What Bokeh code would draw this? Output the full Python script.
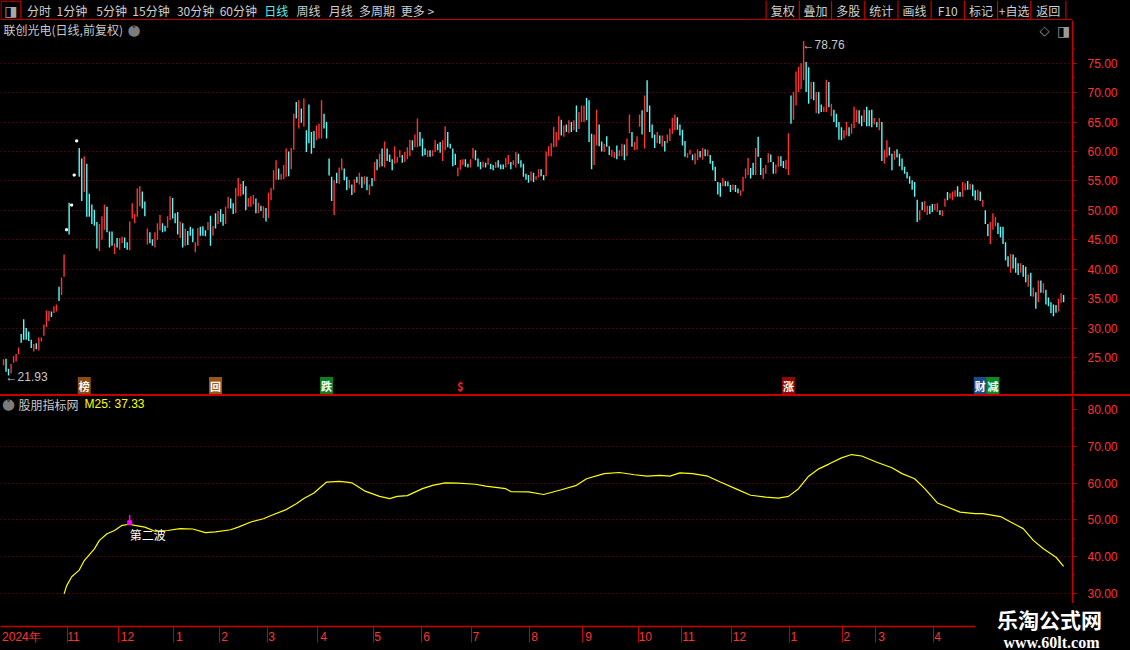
from bokeh.plotting import figure
from bokeh.models import Range1d, FixedTicker, NumeralTickFormatter, Label, ColumnDataSource, Div
from bokeh.layouts import column, row
from bokeh.embed import file_html
from bokeh.resources import INLINE

# ---------------- data ----------------
stock_title = "联创光电(日线,前复权)"
indicator_name = "股朋指标网"

low = [
    23.7, 22.6, 21.93, 22.3, 24.1, 24.3, 25.6, 27.5, 28.0, 28.0,
    27.8, 26.6, 26.0, 26.4, 26.2, 27.7, 28.7, 30.2, 31.2, 31.9,
    32.5, 32.8, 34.6, 35.6, 38.7, 46.7, 45.9, 50.9, 56.0, 61.8,
    55.7, 51.6, 53.1, 48.9, 48.9, 47.7, 47.4, 43.5, 43.1, 45.0,
    46.7, 46.3, 43.7, 44.0, 42.6, 43.7, 43.3, 44.4, 43.6, 43.3,
    43.2, 48.6, 47.8, 48.9, 50.7, 50.3, 49.0, 44.2, 44.4, 44.0,
    43.7, 45.0, 46.6, 46.3, 46.4, 47.0, 48.3, 48.6, 47.8, 45.9,
    45.3, 43.7, 44.0, 44.1, 45.7, 44.6, 42.9, 44.0, 45.7, 45.7,
    45.6, 46.6, 44.0, 45.7, 46.9, 47.7, 48.0, 47.4, 47.7, 50.3,
    50.3, 49.4, 49.5, 52.4, 52.4, 52.7, 50.0, 50.6, 50.6, 51.0,
    49.5, 49.5, 49.9, 48.7, 48.1, 48.7, 51.7, 53.5, 55.2, 55.2,
    55.2, 55.3, 55.7, 55.8, 57.0, 60.3, 65.6, 63.9, 64.9, 64.2,
    59.9, 61.4, 59.6, 60.6, 61.9, 62.2, 62.2, 63.9, 62.2, 55.9,
    51.6, 49.2, 54.6, 54.5, 56.8, 55.1, 53.4, 53.7,
    52.6, 53.0, 54.7, 54.4, 53.8, 54.4, 53.4, 52.6, 54.1, 55.0,
    56.8, 57.3, 57.5, 57.3, 58.4, 58.2, 56.8, 57.9, 58.1, 59.0,
    58.1, 58.2, 58.7, 59.2, 60.2, 60.7, 60.7, 60.9, 59.2, 59.4,
    59.1, 59.1, 59.2, 59.9, 60.2, 59.8, 58.4, 60.2, 60.7, 60.5,
    57.5, 57.7, 55.8, 56.9, 57.7, 57.4, 57.3, 57.3, 58.8, 58.5,
    57.4, 57.0, 57.3, 57.3, 57.7, 57.0, 56.8, 57.2, 57.3, 57.0,
    57.0, 57.3, 57.8, 57.0, 57.7, 57.3, 57.9, 57.3, 55.7, 55.2,
    54.7, 55.0, 54.8, 55.2, 55.6, 55.8, 55.1, 55.8, 59.2, 59.2,
    60.7, 60.8, 61.9, 62.7, 62.5, 63.3, 63.1, 63.3, 63.6, 63.3,
    63.8, 65.0, 65.0, 65.3, 61.6,
    57.0, 57.7, 61.0, 60.9, 60.0, 59.9, 60.8, 59.4, 59.1, 58.9,
    58.7, 59.2, 59.2, 58.5, 59.2, 63.1, 60.8, 60.2, 60.3, 64.2,
    62.9, 60.5, 66.7, 63.3, 62.3, 60.6, 61.4, 61.3, 60.8, 60.0,
    61.4, 61.8, 63.0, 63.6, 63.7, 62.7, 61.0, 59.1, 58.9, 59.5,
    58.5, 57.8, 58.5, 59.0, 58.6, 59.2, 59.2, 57.9, 56.8, 55.0,
    52.7, 52.3, 54.1, 54.1, 54.1, 53.1, 53.4, 53.1, 52.9, 52.5,
    53.2, 55.4, 56.0, 55.4, 56.0, 56.0, 59.1, 56.0, 55.3, 56.2,
    58.1, 58.2, 56.2, 56.2, 57.4, 57.5, 57.2, 57.0, 56.0, 64.7, 65.4,
    67.8, 70.1, 70.6, 72.1, 70.1, 68.1, 68.9, 68.7, 66.5, 66.4,
    66.7, 66.7, 66.7, 67.5, 66.0, 65.0, 64.1, 62.0, 61.9, 62.2,
    62.7, 62.6, 63.0, 64.0, 65.0, 64.7, 64.3, 65.0, 64.3, 64.3,
    64.1, 64.6, 64.1, 63.6, 58.4, 57.9, 59.0, 59.3, 56.8, 58.6,
    59.0, 57.5, 56.8, 56.2, 55.4, 54.5, 53.5, 52.3, 48.0, 48.3,
    50.0, 49.7, 49.2, 49.4, 49.7, 50.0, 49.7, 49.2,
    49.0, 50.6,
    51.7, 52.0, 51.7, 52.3, 52.3, 52.3, 52.3, 53.4, 53.5, 53.5,
    52.4, 51.7, 51.7, 51.6, 50.6, 47.7, 45.6, 44.3, 46.7, 47.3,
    46.0, 45.4, 44.3, 41.5, 40.4, 39.4, 40.1, 39.4, 39.0, 39.4,
    38.7, 37.8, 37.0, 35.4, 35.3, 33.3, 34.4, 36.0, 35.9, 34.0,
    33.7, 32.5, 32.0, 32.6, 32.8, 34.3, 34.4,
]

high = [
    24.7, 24.8, 23.1, 23.9, 25.2, 25.6, 26.7, 29.0, 31.5, 30.0,
    29.4, 28.0, 27.3, 27.4, 28.4, 28.4, 30.6, 33.0, 32.9, 32.8,
    33.7, 34.0, 37.0, 38.6, 42.5, 46.7, 51.3, 50.9, 56.0, 61.8,
    60.6, 58.8, 59.2, 57.9, 52.8, 51.0, 50.1, 48.0, 47.7, 49.0,
    51.0, 50.6, 46.4, 46.4, 44.4, 45.3, 45.3, 45.5, 45.4, 44.6,
    48.1, 51.2, 49.4, 53.7, 54.1, 53.2, 51.5, 46.9, 46.3, 45.1,
    46.3, 47.8, 49.2, 47.8, 47.4, 49.0, 52.4, 52.1, 49.5, 49.7,
    48.1, 47.8, 46.9, 46.5, 47.2, 46.9, 44.6, 47.0, 47.2, 47.3,
    46.6, 48.0, 49.1, 47.4, 49.5, 49.9, 50.2, 49.4, 50.6, 52.3,
    52.0, 51.2, 53.8, 55.5, 54.5, 55.0, 54.1, 52.1, 52.4, 52.6,
    52.0, 51.3, 50.8, 50.7, 50.4, 53.0, 53.8, 56.8, 58.5, 57.1,
    56.2, 57.7, 60.5, 60.0, 60.6, 66.4, 68.4, 68.7, 67.3, 69.0,
    63.6, 68.0, 63.3, 63.5, 64.4, 64.7, 68.7, 66.4, 65.0, 58.8,
    55.7, 55.1, 56.4, 57.3, 58.8, 57.1, 55.7, 55.2,
    54.4, 55.3, 55.7, 56.4, 55.7, 55.8, 55.7, 54.4, 55.5, 58.2,
    58.7, 59.6, 60.5, 61.7, 60.5, 59.5, 58.7, 60.9, 59.1, 60.2,
    59.4, 59.9, 60.7, 62.0, 61.9, 62.9, 65.6, 63.3, 62.2, 60.5,
    60.2, 60.2, 60.2, 61.9, 61.3, 61.6, 61.9, 64.3, 63.3, 61.3,
    60.5, 59.6, 57.3, 58.6, 58.7, 58.7, 57.9, 58.7, 60.6, 60.2,
    58.8, 58.2, 58.3, 58.1, 58.9, 57.9, 57.7, 58.2, 58.5, 57.8,
    57.8, 58.9, 59.4, 58.2, 58.5, 59.9, 59.6, 58.5, 57.9, 56.2,
    56.0, 56.6, 56.4, 55.8, 57.0, 57.0, 56.0, 60.0, 60.9, 61.4,
    64.2, 63.3, 66.0, 65.4, 64.4, 64.6, 65.3, 65.0, 65.3, 67.8,
    66.7, 67.8, 67.8, 69.1, 68.7,
    63.0, 62.9, 67.1, 64.6, 61.7, 61.3, 62.6, 60.9, 60.3, 59.9,
    61.0, 60.2, 61.3, 61.2, 62.2, 66.3, 63.3, 61.6, 62.6, 66.3,
    67.0, 69.5, 72.1, 67.8, 64.6, 62.9, 63.3, 62.7, 62.7, 61.8,
    62.9, 63.9, 65.7, 66.3, 65.8, 64.6, 63.7, 61.8, 59.7, 60.3,
    59.5, 59.7, 60.4, 60.1, 60.6, 60.4, 60.3, 59.4, 58.4, 57.4,
    54.8, 54.7, 55.5, 55.0, 54.9, 54.3, 54.4, 54.3, 53.7, 53.4,
    55.7, 57.1, 58.9, 57.2, 58.1, 60.6, 62.5, 58.9, 57.2, 57.7,
    59.7, 59.5, 58.2, 57.8, 59.2, 59.2, 58.4, 58.6, 63.1, 69.5, 70.1,
    73.6, 74.4, 75.0, 78.76, 75.2, 74.3, 71.8, 71.8, 70.1, 70.1,
    68.0, 67.6, 72.2, 71.8, 68.1, 67.1, 66.4, 65.0, 64.1, 63.6,
    65.0, 64.1, 64.7, 67.6, 67.1, 67.0, 66.1, 67.1, 67.6, 67.0,
    67.1, 65.7, 65.0, 65.7, 65.0, 60.3, 61.9, 60.7, 59.6, 60.1,
    60.4, 59.6, 58.8, 57.4, 56.5, 55.8, 55.1, 54.8, 51.8, 50.0,
    51.4, 51.6, 50.8, 50.8, 51.1, 51.1, 51.2, 50.0,
    50.0, 52.0,
    53.1, 52.9, 53.2, 53.4, 54.1, 53.1, 54.8, 54.6, 55.0, 54.5,
    54.4, 53.4, 53.5, 53.2, 51.8, 50.0, 47.7, 48.0, 49.5, 48.9,
    47.9, 47.2, 47.2, 44.6, 42.2, 42.6, 42.5, 42.0, 41.0, 41.0,
    40.7, 40.4, 39.1, 39.4, 36.9, 36.1, 38.1, 38.1, 37.6, 36.5,
    35.2, 34.4, 34.0, 33.9, 35.0, 35.9, 35.6,
]

# u = up day, d = down day, w = one-price day
kind = (
    "udduuuuddd dduduuuuud uuduuwdwww dduddddduu uddduduudd "
    "uuuuuddudd uuudduuddd ududdduudd dudududduu dduuudduuu "
    "dududuuuud uuuduududu dddduuuddd duduuddu "
    "dududududu dududdduuu duuuduuddd uduudduudd dduuudduud "
    "ddududdudd duuduudddd duduudduuu uuudududud uuudd "
    "duuddudduu duuduuduuu duddddudud uuuudddduu duudududdd "
    "dduddduddu uuuddudduu udduudduudu "
    "uuuuddudud duududdddu uduuuddudd dududuuddu dddddddddu "
    "duudduud uu duuudduudu ddududduuu dddddudddu ddudududud dddduud"
).replace(" ", "")

# M25 line: (candle index, value)
m25_idx = [24, 25, 27, 30, 32, 36, 38, 41, 44, 47, 50, 52, 56, 60, 65,
           70, 75, 80, 84, 90, 93, 98, 103, 106, 112, 116, 119, 123, 128, 133,
           136, 138, 143, 149, 153, 156, 160, 166, 170, 175, 180, 187, 191, 199, 201,
           208, 214, 221, 227, 231, 238, 244, 250, 255, 260, 264, 268, 273, 279, 284,
           290, 296, 302, 307, 311, 315, 319, 323, 327, 332, 336, 340, 346, 352, 356,
           361, 365, 370, 374, 379, 385, 388, 395, 399, 404, 408, 412, 417, 420]
m25_val = [29.8, 32.0, 34.5, 36.3, 38.9, 42.1, 44.4, 46.2, 47.1, 48.5, 48.8, 48.5, 48.0, 46.9, 47.1,
           47.6, 47.5, 46.5, 46.7, 47.3, 48.0, 49.4, 50.3, 51.2, 52.8, 54.4, 55.8, 57.3, 60.3, 60.5,
           60.3, 60.1, 57.9, 56.4, 55.8, 56.4, 56.6, 58.5, 59.4, 60.1, 60.0, 59.7, 59.2, 58.5, 57.7,
           57.6, 56.9, 58.2, 59.4, 61.2, 62.6, 62.9, 62.3, 61.9, 62.1, 61.9, 62.8, 62.6, 61.9, 60.3,
           58.5, 56.7, 56.2, 55.9, 56.4, 58.5, 61.9, 63.9, 65.2, 66.9, 67.8, 67.4, 65.7, 64.2, 62.6,
           61.2, 58.5, 54.6, 53.5, 52.1, 51.7, 51.7, 50.9, 49.4, 47.6, 44.4, 42.1, 39.8, 37.33]

# time axis: month separators (between candles) and month labels
month_bounds = [25.5, 45.5, 67.5, 85.5, 104.5, 124.5, 146.5, 165.5, 185.5, 208.5,
                229.5, 251.5, 268.5, 288.5, 311.5, 332.5, 345.5, 368.5]
month_label_pos = [7.1, 27.7, 49.1, 69.7, 87.6, 106.2, 126.8, 148.2, 167.6, 187.1,
                   210.4, 231.8, 254.3, 271.4, 291.6, 313.1, 334.1, 347.9, 370.1]
month_labels = ["2024年", "11", "12", "1", "2", "3", "4", "5", "6", "7",
                "8", "9", "10", "11", "12", "1", "2", "3", "4"]

price_ticks = [25, 30, 35, 40, 45, 50, 55, 60, 65, 70, 75]
ind_ticks = [30, 40, 50, 60, 70, 80]
ind_grid = [30, 40, 50, 60, 70]

# event markers on the price chart
event_idx = [32, 84, 128, 181, 311, 387, 392]
event_text = ["榜", "回", "跌", "$", "涨", "财", "减"]

wave_idx = 50
wave_text = "第二波"

menu_left = ["分时", "1分钟", "5分钟", "15分钟", "30分钟", "60分钟", "日线", "周线", "月线", "多周期", "更多 >"]
menu_right = ["复权", "叠加", "多股", "统计", "画线", "F10", "标记", "+自选", "返回"]

# ---------------- layout / style ----------------
W = 1130
AXW = 58
FW = W - AXW
H_MENU, H_PRICE, H_SEP, H_IND = 20, 374, 2, 207
H_IND2, H_TIME, H_BOT = 27, 16, 4
W_LEFT = 975
T_PRICE = H_MENU
T_IND = H_MENU + H_PRICE + H_SEP
T_IND2 = T_IND + H_IND
X0_REF, DX_REF = 3.0, 2.524

RED = "#c80000"
GRID = "#a80000"
AXT = "#ff3232"
UP = "#ff3232"
DOWN = "#54fcfc"
TXT = "#cfcfcf"
CJK = "Noto Sans CJK SC"
LAT = "Liberation Sans"


def vmap(ref_a, val_a, ref_b, val_b):
    k = (val_b - val_a) / (ref_b - ref_a)
    return lambda y: val_a + (y - ref_a) * k


price_at = vmap(62.7, 75, 357.0, 25)
ind_at = vmap(409.3, 80, 592.7, 30)
price_range = Range1d(price_at(T_PRICE + H_PRICE), price_at(T_PRICE))
ind_range = Range1d(ind_at(T_IND + H_IND), ind_at(T_IND))
ind2_range = Range1d(ind_at(T_IND2 + H_IND2), ind_at(T_IND2))
x_start = (0 - X0_REF) / DX_REF
xr = Range1d(x_start, (FW - X0_REF) / DX_REF)
xr2 = Range1d(x_start, (W_LEFT - X0_REF) / DX_REF)


def base(height, width=W, **kw):
    p = figure(width=width, height=height, output_backend="svg", toolbar_location=None,
               background_fill_color="black", border_fill_color="black",
               outline_line_color=None, min_border=0, **kw)
    return p


def slabel(fig, top, height, xref, yref, text, **kw):
    kw.setdefault("text_baseline", "middle")
    fig.add_layout(Label(x=xref, y=height - (yref - top), x_units="screen",
                         y_units="screen", text=text, **kw))


def style_yaxis(ax):
    ax.formatter = NumeralTickFormatter(format="0.00")
    ax.axis_line_color = RED
    ax.axis_line_width = 1.5
    ax.major_tick_line_color = RED
    ax.major_tick_out = 4
    ax.major_tick_in = 0
    ax.minor_tick_line_color = RED
    ax.minor_tick_out = 2
    ax.minor_tick_in = 0
    ax.major_label_text_color = AXT
    ax.major_label_text_font = LAT
    ax.major_label_text_font_size = "12px"
    ax.major_label_standoff = 11


# ---- menu bar ----
menu = base(H_MENU, x_range=Range1d(0, 1130), y_range=Range1d(20, 0),
            x_axis_type=None, y_axis_type=None)
menu.xgrid.visible = False
menu.ygrid.visible = False
menu.segment(x0=[0], y0=[19.3], x1=[1130], y1=[19.3], line_color=RED, line_width=1.5)
menu.quad(left=[0.5], right=[21.5], top=[0.7], bottom=[19.0], fill_color=None, line_color=RED, line_width=1.2)
menu.add_layout(Label(x=11, y=10, text="◨", text_align="center", text_baseline="middle",
                      text_color="#a8a8a8", text_font_size="14px", text_font="DejaVu Sans"))
left_x = [28, 59, 101, 139, 186, 231, 278, 312, 346, 378, 422]
for t, xx in zip(menu_left, left_x):
    menu.add_layout(Label(x=xx, y=10, text=t, text_baseline="middle", text_font=CJK,
                          text_font_size="12px",
                          text_color="#55eef6" if t == "日线" else TXT))
seps = [807, 842, 876, 911, 946, 981, 1016, 1051, 1086, 1123]
menu.segment(x0=seps, y0=[0] * len(seps), x1=seps, y1=[19] * len(seps), line_color=RED, line_width=1.2)
for i, t in enumerate(menu_right):
    menu.add_layout(Label(x=(seps[i] + seps[i + 1]) / 2, y=10, text=t, text_align="center",
                          text_baseline="middle", text_font=CJK, text_font_size="12px", text_color=TXT))

# ---- price chart ----
p1 = base(H_PRICE, x_range=xr, y_range=price_range, x_axis_location=None,
          y_axis_location="right", min_border_right=AXW)
n = min(len(low), len(high), len(kind))
seg = dict(x=[], lo=[], hi=[], c=[])
one = dict(x=[], y=[])
for i in range(n):
    if kind[i] == "w":
        one["x"].append(i)
        one["y"].append(low[i])
    else:
        seg["x"].append(i)
        seg["lo"].append(low[i])
        seg["hi"].append(high[i])
        seg["c"].append(UP if kind[i] == "u" else DOWN)
p1.segment(x0="x", y0="lo", x1="x", y1="hi", line_color="c", line_width=1.4,
           source=ColumnDataSource(seg))
p1.scatter(x="x", y="y", marker="square", size=2, fill_color="white", line_color="white",
           source=ColumnDataSource(one))

ax = p1.yaxis[0]
ax.ticker = FixedTicker(ticks=price_ticks,
                        minor_ticks=[price_ticks[0] - 2.5] + [t + 2.5 for t in price_ticks])
style_yaxis(ax)
p1.ygrid.ticker = FixedTicker(ticks=price_ticks)
p1.ygrid.grid_line_color = GRID
p1.ygrid.grid_line_dash = "1 3"
p1.xgrid.grid_line_color = None

# high / low tags
i_lo = min(range(n), key=lambda i: low[i])
i_hi = max(range(n), key=lambda i: high[i])
p1.add_layout(Label(x=i_lo, y=low[i_lo], text="←%.2f" % low[i_lo], x_offset=-3, y_offset=-1,
                    text_baseline="middle", text_color="#c8c8c8", text_font=LAT, text_font_size="12px"))
p1.add_layout(Label(x=i_hi, y=high[i_hi], text="←%.2f" % high[i_hi], x_offset=-1, y_offset=-4,
                    text_baseline="middle", text_color="#c8c8c8", text_font=LAT, text_font_size="12px"))

# event markers
ev_style = {"榜": ("#8c4a14", "white"), "回": ("#9a5612", "white"), "跌": ("#0f7f1a", "white"),
            "$": (None, "#ff2020"), "涨": ("#8e0a0a", "white"), "财": ("#1c4a8c", "white"),
            "减": ("#0f8a1f", "white")}
ev_y = price_at(385.5)
for xi, t in zip(event_idx, event_text):
    bg, fg = ev_style[t]
    p1.add_layout(Label(x=xi, y=ev_y, text=t, text_align="center", text_baseline="middle",
                        text_color=fg, text_font=CJK, text_font_size="11px", text_font_style="bold",
                        background_fill_color=bg, padding=1))

slabel(p1, T_PRICE, H_PRICE, 3, 28.5, stock_title, text_font=CJK, text_font_size="12px", text_color="#c8c8c8")
slabel(p1, T_PRICE, H_PRICE, 133.5, 29, "●", text_align="center", text_font="DejaVu Sans",
       text_font_size="15px", text_color="#7c7c7c")
slabel(p1, T_PRICE, H_PRICE, 133.5, 29.5, "˅", text_align="center", text_font="DejaVu Sans",
       text_font_size="10px", text_color="#1a1a1a", text_font_style="bold")
slabel(p1, T_PRICE, H_PRICE, 1044, 30, "◇", text_align="center", text_font="DejaVu Sans",
       text_font_size="13px", text_color="#9a9a9a")
slabel(p1, T_PRICE, H_PRICE, 1063, 30, "◨", text_align="center", text_font="DejaVu Sans",
       text_font_size="14px", text_color="#9a9a9a")

# ---- separator ----
sep = Div(text="", width=W, height=H_SEP, margin=0,
          styles={"background-color": RED, "overflow": "hidden"})

# ---- indicator (upper part, with value axis) ----
p2 = base(H_IND, x_range=xr, y_range=ind_range, x_axis_location=None,
          y_axis_location="right", min_border_right=AXW)
p2.line(x=m25_idx, y=m25_val, line_color="#ffff00", line_width=1.2)
wv = m25_val[m25_idx.index(wave_idx)]
p2.segment(x0=[wave_idx], y0=[wv], x1=[wave_idx], y1=[wv + 2.5], line_color="#ff00ff", line_width=1.5)
p2.scatter(x=[wave_idx], y=[wv + 0.4], marker="square", size=4, fill_color="#ff00ff", line_color="#ff00ff")
p2.add_layout(Label(x=wave_idx, y=wv, y_offset=-10, text=wave_text, text_baseline="middle",
                    text_color="white", text_font=CJK, text_font_size="12px"))

ay = p2.yaxis[0]
ay.ticker = FixedTicker(ticks=ind_ticks, minor_ticks=[t + 5 for t in ind_ticks[:-1]])
style_yaxis(ay)
p2.ygrid.ticker = FixedTicker(ticks=ind_grid)
p2.ygrid.grid_line_color = GRID
p2.ygrid.grid_line_dash = "1 3"
p2.xgrid.grid_line_color = None

slabel(p2, T_IND, H_IND, 8, 403.5, "●", text_align="center", text_font="DejaVu Sans",
       text_font_size="15px", text_color="#7c7c7c")
slabel(p2, T_IND, H_IND, 8, 404, "˅", text_align="center", text_font="DejaVu Sans",
       text_font_size="10px", text_color="#1a1a1a", text_font_style="bold")
slabel(p2, T_IND, H_IND, 18, 403.5, indicator_name, text_font=CJK, text_font_size="12px", text_color="#c8c8c8")
slabel(p2, T_IND, H_IND, 84, 403.5, "M25: %.2f" % m25_val[-1], text_font=LAT, text_font_size="12px",
       text_color="#ffff00")

# ---- indicator (lower strip) with the time axis ----
p3 = base(H_IND2 + H_TIME, width=W_LEFT, x_range=xr2, y_range=ind2_range,
          x_axis_location="below", y_axis_location=None, min_border_bottom=H_TIME)
p3.xgrid.grid_line_color = None
p3.ygrid.grid_line_color = None
xa = p3.xaxis[0]
xa.ticker = FixedTicker(ticks=month_label_pos, minor_ticks=month_bounds)
xa.major_label_overrides = {pos: lab for pos, lab in zip(month_label_pos, month_labels)}
xa.axis_line_color = RED
xa.axis_line_width = 1.5
xa.major_tick_line_color = None
xa.major_tick_out = 0
xa.major_tick_in = 0
xa.minor_tick_line_color = RED
xa.minor_tick_out = H_TIME
xa.minor_tick_in = 0
xa.major_label_text_color = AXT
xa.major_label_text_font = LAT
xa.major_label_text_font_size = "12px"
xa.major_label_standoff = -13

bot = base(H_BOT, width=W_LEFT, x_range=Range1d(0, W_LEFT), y_range=Range1d(4, 0),
           x_axis_type=None, y_axis_type=None)
bot.xgrid.visible = False
bot.ygrid.visible = False
bot.segment(x0=[0], y0=[0.8], x1=[W_LEFT], y1=[0.8], line_color=RED, line_width=1.5)

# ---- watermark ----
wm = base(H_IND2 + H_TIME + H_BOT, width=W - W_LEFT, x_range=Range1d(W_LEFT, W),
          y_range=Range1d(650, T_IND2), x_axis_type=None, y_axis_type=None)
wm.xgrid.visible = False
wm.ygrid.visible = False
wm.add_layout(Label(x=1049, y=618, text="乐淘公式网", text_align="center", text_baseline="middle",
                    text_font=CJK, text_font_size="21px", text_font_style="bold", text_color="white"))
wm.add_layout(Label(x=1051, y=642, text="www.60lt.com", text_align="center", text_baseline="middle",
                    text_font="Liberation Serif", text_font_size="16px", text_font_style="bold",
                    text_color="white"))

page = column(menu, p1, sep, p2, row(column(p3, bot, spacing=0), wm, spacing=0), spacing=0,
              styles={"background-color": "black"})
open("out.html", "w").write(file_html(page, INLINE, title="联创光电"))
